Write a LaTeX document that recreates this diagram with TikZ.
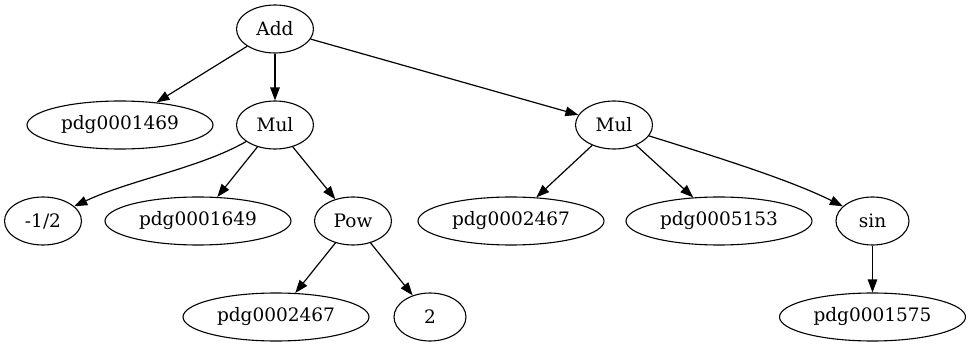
\documentclass[tikz,border=0pt]{standalone}
\usepackage{fontspec}
\setmainfont{DejaVu Serif}
\usetikzlibrary{arrows.meta,shapes.geometric}

\begin{document}
\begin{tikzpicture}[
  x=1pt, y=-1pt,
  tnode/.style={draw, ellipse, line width=1.1pt, inner sep=0pt,
                minimum width=77pt, minimum height=48pt,
                font=\fontsize{18.5}{22}\selectfont},
  wide/.style={tnode, minimum width=186pt},
  arr/.style={-{Triangle[length=13pt,width=9.5pt]}, line width=1.2pt}
]
  \useasboundingbox (0,0) rectangle (971,347);

  % level 0
  \node[tnode] (add) at (275,29) {Add};

  % level 1
  \node[wide]  (pdgA) at (120,125) {pdg0001469};
  \node[tnode] (mulL) at (275,125) {Mul};
  \node[tnode] (mulR) at (614,125) {Mul};

  % level 2
  \node[tnode] (half) at (43,221) {-1/2};
  \node[wide]  (pdgB) at (198,221) {pdg0001649};
  \node[tnode] (pow)  at (353,221) {Pow};
  \node[wide]  (pdgC) at (511,221) {pdg0002467};
  \node[wide]  (pdgD) at (719,221) {pdg0005153};
  \node[tnode, minimum width=73pt] (sinus) at (872.5,221) {sin};

  % level 3
  \node[wide]  (pdgE) at (276,317) {pdg0002467};
  \node[tnode, minimum width=72pt] (two) at (430,317) {2};
  \node[wide]  (pdgF) at (872.5,317) {pdg0001575};

  \draw[arr] (add) -- (pdgA);
  \draw[arr] (add) -- (mulL);
  \draw[arr] (add) -- (mulR);

  \draw[arr] (mulL) .. controls (200,168) and (130,180) .. (half);
  \draw[arr] (mulL) -- (pdgB);
  \draw[arr] (mulL) -- (pow);

  \draw[arr] (mulR) -- (pdgC);
  \draw[arr] (mulR) -- (pdgD);
  \draw[arr] (mulR) .. controls (720,158) and (790,180) .. (sinus);

  \draw[arr] (pow) -- (pdgE);
  \draw[arr] (pow) -- (two);
  \draw[arr] (sinus) -- (pdgF);
\end{tikzpicture}
\end{document}
